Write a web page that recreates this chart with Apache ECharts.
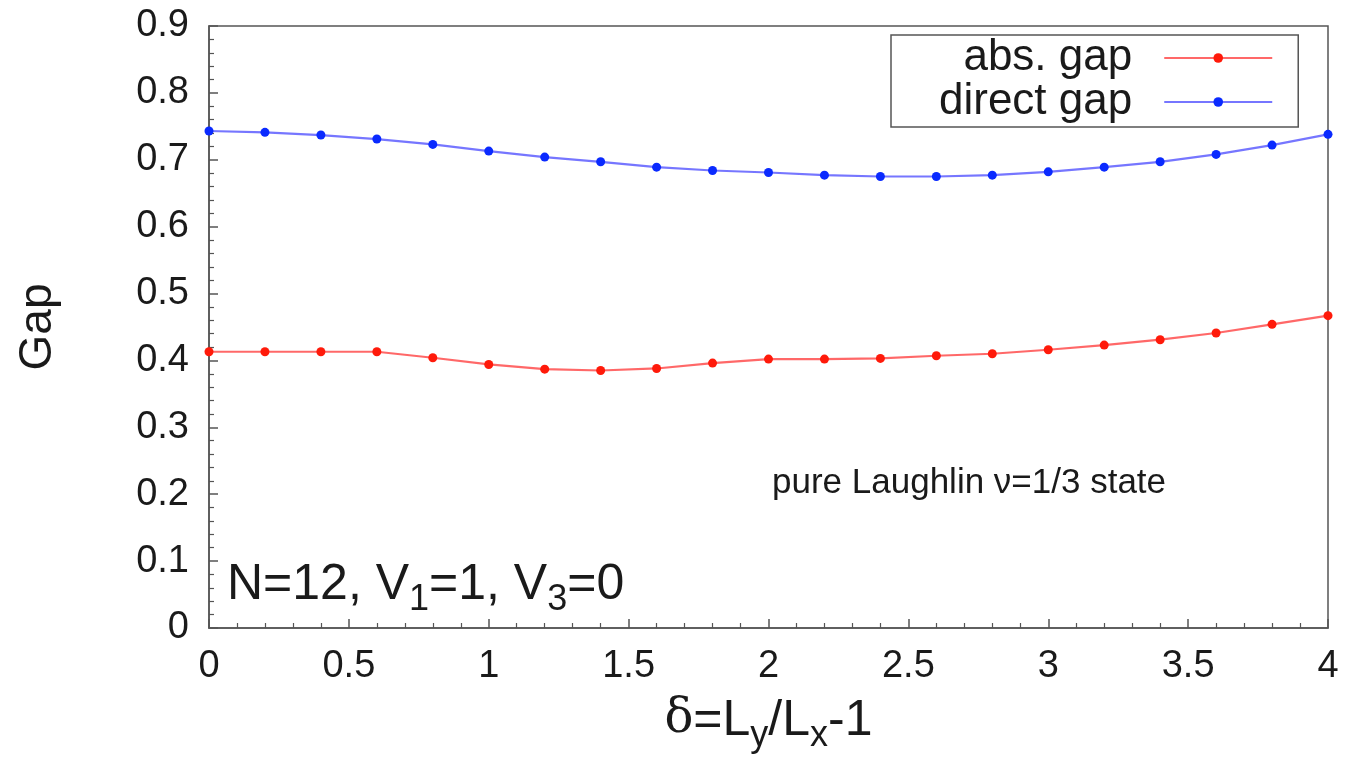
<!DOCTYPE html>
<html>
<head>
<meta charset="utf-8">
<script src="https://cdn.jsdelivr.net/npm/echarts@6/dist/echarts.min.js"></script>
<style>
html,body{margin:0;padding:0;background:#fff;}
#chart{width:1346px;height:767px;}
</style>
</head>
<body>
<div id="chart"></div>
<script>
// delta = Ly/Lx - 1
const deltas = [0, 0.2, 0.4, 0.6, 0.8, 1.0, 1.2, 1.4, 1.6, 1.8, 2.0, 2.2, 2.4, 2.6, 2.8, 3.0, 3.2, 3.4, 3.6, 3.8, 4.0];
const absGap = [0.413, 0.413, 0.413, 0.413, 0.404, 0.394, 0.387, 0.385, 0.388, 0.396, 0.402, 0.402, 0.403, 0.407, 0.410, 0.416, 0.423, 0.431, 0.441, 0.454, 0.467];
const directGap = [0.743, 0.741, 0.737, 0.731, 0.723, 0.713, 0.704, 0.697, 0.689, 0.684, 0.681, 0.677, 0.675, 0.675, 0.677, 0.682, 0.689, 0.697, 0.708, 0.722, 0.738];
const seriesNames = ['abs. gap', 'direct gap'];
const xTicks = {min: 0, max: 4, interval: 0.5};
const yTicks = {min: 0, max: 0.9, interval: 0.1};

const FONT = '"Liberation Sans", Arial, Helvetica, sans-serif';
const TXT = '#1a1a1a';
const AX = '#555';

const chart = echarts.init(document.getElementById('chart'), null, {renderer: 'canvas'});
const pair = (xs, ys) => xs.map((x, i) => [x, ys[i]]);

chart.setOption({
  animation: false,
  backgroundColor: '#fff',
  grid: {left: 209, right: 18, top: 26, bottom: 139, show: true, borderColor: AX, borderWidth: 1.5, backgroundColor: 'transparent'},
  legend: {
    orient: 'vertical',
    left: 891, top: 35,
    align: 'right',
    itemWidth: 108, itemHeight: 12, itemGap: 0,
    padding: [1, 25, 3, 48],
    borderColor: AX, borderWidth: 1.5,
    textStyle: {fontFamily: FONT, fontSize: 44, color: TXT, lineHeight: 42, padding: [0, 27, 0, 0]},
    data: seriesNames
  },
  xAxis: {
    type: 'value', min: xTicks.min, max: xTicks.max, interval: xTicks.interval,
    axisLine: {show: true, lineStyle: {color: AX, width: 1.5}},
    axisTick: {show: true, inside: true, length: 9, lineStyle: {color: AX, width: 1.5}},
    minorTick: {show: true, splitNumber: 5, length: 5, lineStyle: {color: AX, width: 1.2}},
    splitLine: {show: false},
    axisLabel: {fontFamily: FONT, fontSize: 38, color: TXT, margin: 20},
    name: '{d|δ}{n|=L}{s|y}{n|/L}{s|x}{n|-1}',
    nameLocation: 'middle', nameGap: 68,
    nameTextStyle: {
      rich: {
        d: {fontFamily: '"DejaVu Serif", "Liberation Serif", serif', fontSize: 48, color: TXT, verticalAlign: 'top', lineHeight: 52},
        n: {fontFamily: FONT, fontSize: 50, color: TXT, verticalAlign: 'top', lineHeight: 52},
        s: {fontFamily: FONT, fontSize: 36, color: TXT, verticalAlign: 'top', lineHeight: 38, padding: [22, 0, 0, 0]}
      }
    }
  },
  yAxis: {
    type: 'value', min: yTicks.min, max: yTicks.max, interval: yTicks.interval,
    axisLine: {show: true, lineStyle: {color: AX, width: 1.5}},
    axisTick: {show: true, inside: true, length: 9, lineStyle: {color: AX, width: 1.5}},
    minorTick: {show: true, splitNumber: 5, length: 5, lineStyle: {color: AX, width: 1.2}},
    splitLine: {show: false},
    axisLabel: {fontFamily: FONT, fontSize: 38, color: TXT, margin: 20},
    name: 'Gap', nameLocation: 'middle', nameGap: 148, nameRotate: 90,
    nameTextStyle: {fontFamily: FONT, fontSize: 46, color: TXT}
  },
  series: [
    {
      name: seriesNames[0], type: 'line', data: pair(deltas, absGap),
      symbol: 'circle', symbolSize: 9,
      itemStyle: {color: '#ff1a0a'},
      lineStyle: {color: 'rgba(255,40,40,0.7)', width: 2.2},
      clip: false
    },
    {
      name: seriesNames[1], type: 'line', data: pair(deltas, directGap),
      symbol: 'circle', symbolSize: 9,
      itemStyle: {color: '#0a2aff'},
      lineStyle: {color: 'rgba(60,60,255,0.7)', width: 2.2},
      clip: false
    }
  ],
  graphic: [
    {
      type: 'text', left: 227, top: 560,
      style: {
        text: '{n|N=12, V}{s|1}{n|=1, V}{s|3}{n|=0}',
        rich: {
          n: {fontFamily: FONT, fontSize: 50, fill: TXT, verticalAlign: 'top', lineHeight: 54},
          s: {fontFamily: FONT, fontSize: 36, fill: TXT, verticalAlign: 'top', lineHeight: 40, padding: [22, 0, 0, 0]}
        }
      }
    },
    {
      type: 'text', left: 772, top: 466,
      style: {text: 'pure Laughlin ν=1/3 state', font: '35px ' + FONT, fill: TXT}
    }
  ]
});
</script>
</body>
</html>
